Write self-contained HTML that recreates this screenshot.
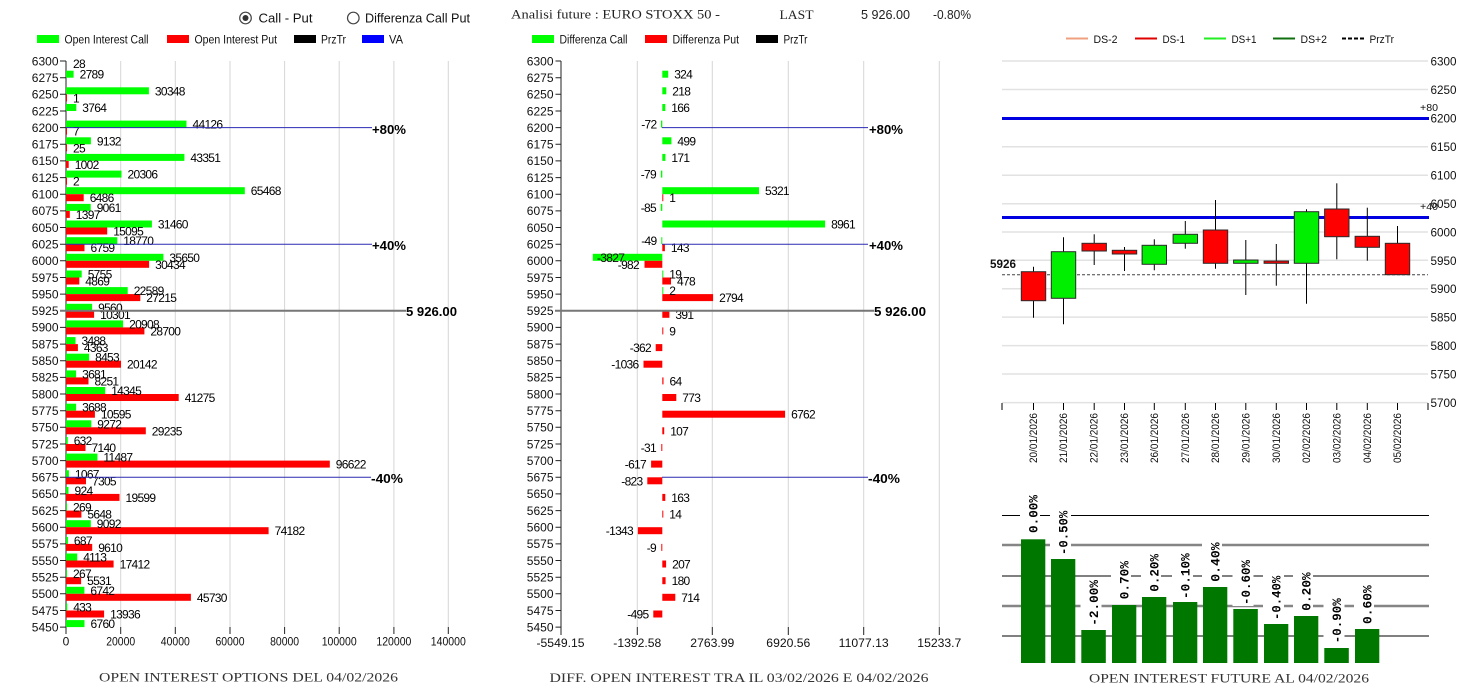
<!DOCTYPE html>
<html><head><meta charset="utf-8"><style>
html,body{margin:0;padding:0;background:#fff;}
svg{display:block;}
.s{font-family:"Liberation Sans",Arial,sans-serif;}
.sf{font-family:"Liberation Serif","Times New Roman",serif;}
.mo{font-family:"Liberation Mono","Courier New",monospace;}
.d{font-size:12px;letter-spacing:-0.7px;fill:#000;}
.y{font-size:12px;fill:#111;}
.b{font-size:13px;font-weight:bold;fill:#000;}
</style></head><body>
<svg width="1461" height="688" viewBox="0 0 1461 688" xmlns="http://www.w3.org/2000/svg">
<rect width="1461" height="688" fill="#fff"/>

<!-- Header -->
<circle cx="245.5" cy="18" r="5.8" fill="#fff" stroke="#444" stroke-width="1.2"/>
<circle cx="245.5" cy="18" r="3" fill="#333"/>
<text class="s" x="258.5" y="22.5" font-size="13" textLength="54" lengthAdjust="spacingAndGlyphs" fill="#111">Call - Put</text>
<circle cx="353.3" cy="18" r="5.8" fill="#fff" stroke="#444" stroke-width="1.2"/>
<text class="s" x="365" y="22.5" font-size="13" textLength="105" lengthAdjust="spacingAndGlyphs" fill="#111">Differenza Call Put</text>

<text class="sf" x="511" y="18.5" font-size="13" textLength="209" lengthAdjust="spacingAndGlyphs" fill="#222">Analisi future : EURO STOXX 50 -</text>
<text class="sf" x="779.5" y="19" font-size="13" textLength="34" lengthAdjust="spacingAndGlyphs" fill="#222">LAST</text>
<text class="s" x="861" y="19" font-size="12.5" textLength="49" lengthAdjust="spacingAndGlyphs" fill="#222">5 926.00</text>
<text class="s" x="933" y="19" font-size="12.5" textLength="38" lengthAdjust="spacingAndGlyphs" fill="#222">-0.80%</text>

<!-- left legend -->
<rect x="37" y="35" width="22" height="8" fill="#00ff00"/>
<text class="s" x="64.5" y="43.5" font-size="11.5" textLength="84" lengthAdjust="spacingAndGlyphs" fill="#111">Open Interest Call</text>
<rect x="167" y="35" width="22" height="8" fill="#ff0000"/>
<text class="s" x="194.5" y="43.5" font-size="11.5" textLength="82.5" lengthAdjust="spacingAndGlyphs" fill="#111">Open Interest Put</text>
<rect x="294" y="35" width="22" height="8" fill="#000"/>
<text class="s" x="321" y="43.5" font-size="11.5" textLength="25" lengthAdjust="spacingAndGlyphs" fill="#111">PrzTr</text>
<rect x="362" y="35" width="22" height="8" fill="#0000ff"/>
<text class="s" x="389" y="43.5" font-size="11.5" textLength="14" lengthAdjust="spacingAndGlyphs" fill="#111">VA</text>

<!-- middle legend -->
<rect x="532" y="35" width="22" height="8" fill="#00ff00"/>
<text class="s" x="559.5" y="43.5" font-size="11.5" textLength="68" lengthAdjust="spacingAndGlyphs" fill="#111">Differenza Call</text>
<rect x="645" y="35" width="22" height="8" fill="#ff0000"/>
<text class="s" x="672.5" y="43.5" font-size="11.5" textLength="66.5" lengthAdjust="spacingAndGlyphs" fill="#111">Differenza Put</text>
<rect x="756" y="35" width="22" height="8" fill="#000"/>
<text class="s" x="783.5" y="43.5" font-size="11.5" textLength="24" lengthAdjust="spacingAndGlyphs" fill="#111">PrzTr</text>

<!-- right legend -->
<line x1="1066" y1="38.5" x2="1088" y2="38.5" stroke="#f0a080" stroke-width="2"/>
<text class="s" x="1093.5" y="43" font-size="11" textLength="24" lengthAdjust="spacingAndGlyphs" fill="#111">DS-2</text>
<line x1="1135" y1="38.5" x2="1157" y2="38.5" stroke="#e00000" stroke-width="2"/>
<text class="s" x="1162.5" y="43" font-size="11" textLength="22.5" lengthAdjust="spacingAndGlyphs" fill="#111">DS-1</text>
<line x1="1204" y1="38.5" x2="1226" y2="38.5" stroke="#22ee22" stroke-width="2"/>
<text class="s" x="1231.5" y="43" font-size="11" textLength="25" lengthAdjust="spacingAndGlyphs" fill="#111">DS+1</text>
<line x1="1273" y1="38.5" x2="1295" y2="38.5" stroke="#107010" stroke-width="2"/>
<text class="s" x="1300.5" y="43" font-size="11" textLength="26.5" lengthAdjust="spacingAndGlyphs" fill="#111">DS+2</text>
<line x1="1342" y1="38.5" x2="1364" y2="38.5" stroke="#000" stroke-width="2" stroke-dasharray="4,2"/>
<text class="s" x="1369.5" y="43" font-size="11" textLength="24.5" lengthAdjust="spacingAndGlyphs" fill="#111">PrzTr</text>

<!-- ================= LEFT CHART ================= -->
<g stroke="#d6d6d6" stroke-width="1">
<line x1="120.7" y1="61" x2="120.7" y2="627"/>
<line x1="175.3" y1="61" x2="175.3" y2="627"/>
<line x1="230" y1="61" x2="230" y2="627"/>
<line x1="284.6" y1="61" x2="284.6" y2="627"/>
<line x1="339.2" y1="61" x2="339.2" y2="627"/>
<line x1="393.9" y1="61" x2="393.9" y2="627"/>
<line x1="448.3" y1="61" x2="448.3" y2="627"/>
</g>
<g stroke="#222" stroke-width="1">
<line x1="66" y1="61" x2="66" y2="634"/>
<line x1="120.7" y1="627" x2="120.7" y2="634"/>
<line x1="175.3" y1="627" x2="175.3" y2="634"/>
<line x1="230" y1="627" x2="230" y2="634"/>
<line x1="284.6" y1="627" x2="284.6" y2="634"/>
<line x1="339.2" y1="627" x2="339.2" y2="634"/>
<line x1="393.9" y1="627" x2="393.9" y2="634"/>
<line x1="448.3" y1="627" x2="448.3" y2="634"/>
</g>
<g class="s y" text-anchor="middle">
<text x="66" y="645.5">0</text>
<text x="120.7" y="645.5" textLength="29" lengthAdjust="spacingAndGlyphs">20000</text>
<text x="175.3" y="645.5" textLength="29" lengthAdjust="spacingAndGlyphs">40000</text>
<text x="230" y="645.5" textLength="29" lengthAdjust="spacingAndGlyphs">60000</text>
<text x="284.6" y="645.5" textLength="29" lengthAdjust="spacingAndGlyphs">80000</text>
<text x="339.2" y="645.5" textLength="35" lengthAdjust="spacingAndGlyphs">100000</text>
<text x="393.9" y="645.5" textLength="35" lengthAdjust="spacingAndGlyphs">120000</text>
<text x="448.3" y="645.5" textLength="35" lengthAdjust="spacingAndGlyphs">140000</text>
</g>

<!-- y ticks and labels, left + middle -->
<g stroke="#222" stroke-width="1">
<path d="M60 61H66M60 77.7H66M60 94.3H66M60 111H66M60 127.6H66M60 144.3H66M60 160.9H66M60 177.6H66M60 194.2H66M60 210.9H66M60 227.5H66M60 244.2H66M60 260.8H66M60 277.5H66M60 294.1H66M60 310.8H66M60 327.4H66M60 344.1H66M60 360.7H66M60 377.4H66M60 394H66M60 410.7H66M60 427.3H66M60 444H66M60 460.6H66M60 477.3H66M60 493.9H66M60 510.6H66M60 527.2H66M60 543.9H66M60 560.5H66M60 577.2H66M60 593.8H66M60 610.5H66M60 627.1H66"/>
<path d="M555.5 61H561M555.5 77.7H561M555.5 94.3H561M555.5 111H561M555.5 127.6H561M555.5 144.3H561M555.5 160.9H561M555.5 177.6H561M555.5 194.2H561M555.5 210.9H561M555.5 227.5H561M555.5 244.2H561M555.5 260.8H561M555.5 277.5H561M555.5 294.1H561M555.5 310.8H561M555.5 327.4H561M555.5 344.1H561M555.5 360.7H561M555.5 377.4H561M555.5 394H561M555.5 410.7H561M555.5 427.3H561M555.5 444H561M555.5 460.6H561M555.5 477.3H561M555.5 493.9H561M555.5 510.6H561M555.5 527.2H561M555.5 543.9H561M555.5 560.5H561M555.5 577.2H561M555.5 593.8H561M555.5 610.5H561M555.5 627.1H561"/>
</g>
<g class="s y" text-anchor="end">
<text x="58.5" y="65.3">6300</text><text x="58.5" y="82">6275</text><text x="58.5" y="98.6">6250</text><text x="58.5" y="115.3">6225</text><text x="58.5" y="131.9">6200</text><text x="58.5" y="148.6">6175</text><text x="58.5" y="165.2">6150</text><text x="58.5" y="181.9">6125</text><text x="58.5" y="198.5">6100</text><text x="58.5" y="215.2">6075</text><text x="58.5" y="231.8">6050</text><text x="58.5" y="248.5">6025</text><text x="58.5" y="265.1">6000</text><text x="58.5" y="281.8">5975</text><text x="58.5" y="298.4">5950</text><text x="58.5" y="315.1">5925</text><text x="58.5" y="331.7">5900</text><text x="58.5" y="348.4">5875</text><text x="58.5" y="365">5850</text><text x="58.5" y="381.7">5825</text><text x="58.5" y="398.3">5800</text><text x="58.5" y="415">5775</text><text x="58.5" y="431.6">5750</text><text x="58.5" y="448.3">5725</text><text x="58.5" y="464.9">5700</text><text x="58.5" y="481.6">5675</text><text x="58.5" y="498.2">5650</text><text x="58.5" y="514.9">5625</text><text x="58.5" y="531.5">5600</text><text x="58.5" y="548.2">5575</text><text x="58.5" y="564.8">5550</text><text x="58.5" y="581.5">5525</text><text x="58.5" y="598.1">5500</text><text x="58.5" y="614.8">5475</text><text x="58.5" y="631.4">5450</text>
</g>
<g class="s y" text-anchor="end">
<text x="553.5" y="65.3">6300</text><text x="553.5" y="82">6275</text><text x="553.5" y="98.6">6250</text><text x="553.5" y="115.3">6225</text><text x="553.5" y="131.9">6200</text><text x="553.5" y="148.6">6175</text><text x="553.5" y="165.2">6150</text><text x="553.5" y="181.9">6125</text><text x="553.5" y="198.5">6100</text><text x="553.5" y="215.2">6075</text><text x="553.5" y="231.8">6050</text><text x="553.5" y="248.5">6025</text><text x="553.5" y="265.1">6000</text><text x="553.5" y="281.8">5975</text><text x="553.5" y="298.4">5950</text><text x="553.5" y="315.1">5925</text><text x="553.5" y="331.7">5900</text><text x="553.5" y="348.4">5875</text><text x="553.5" y="365">5850</text><text x="553.5" y="381.7">5825</text><text x="553.5" y="398.3">5800</text><text x="553.5" y="415">5775</text><text x="553.5" y="431.6">5750</text><text x="553.5" y="448.3">5725</text><text x="553.5" y="464.9">5700</text><text x="553.5" y="481.6">5675</text><text x="553.5" y="498.2">5650</text><text x="553.5" y="514.9">5625</text><text x="553.5" y="531.5">5600</text><text x="553.5" y="548.2">5575</text><text x="553.5" y="564.8">5550</text><text x="553.5" y="581.5">5525</text><text x="553.5" y="598.1">5500</text><text x="553.5" y="614.8">5475</text><text x="553.5" y="631.4">5450</text>
</g>

<!-- left bars -->
<g fill="#00ff00">
<rect x="66" y="70.7" width="7.6" height="7"/>
<rect x="66" y="87.3" width="82.9" height="7"/>
<rect x="66" y="104" width="10.3" height="7"/>
<rect x="66" y="120.6" width="120.5" height="7"/>
<rect x="66" y="137.3" width="24.9" height="7"/>
<rect x="66" y="153.9" width="118.4" height="7"/>
<rect x="66" y="170.6" width="55.5" height="7"/>
<rect x="66" y="187.2" width="178.8" height="7"/>
<rect x="66" y="203.9" width="24.7" height="7"/>
<rect x="66" y="220.5" width="85.9" height="7"/>
<rect x="66" y="237.2" width="51.3" height="7"/>
<rect x="66" y="253.8" width="97.4" height="7"/>
<rect x="66" y="270.5" width="15.7" height="7"/>
<rect x="66" y="287.1" width="61.7" height="7"/>
<rect x="66" y="303.8" width="26.1" height="7"/>
<rect x="66" y="320.4" width="57.1" height="7"/>
<rect x="66" y="337.1" width="9.5" height="7"/>
<rect x="66" y="353.7" width="23.1" height="7"/>
<rect x="66" y="370.4" width="10.1" height="7"/>
<rect x="66" y="387" width="39.2" height="7"/>
<rect x="66" y="403.7" width="10.1" height="7"/>
<rect x="66" y="420.3" width="25.3" height="7"/>
<rect x="66" y="437" width="1.7" height="7"/>
<rect x="66" y="453.6" width="31.4" height="7"/>
<rect x="66" y="470.3" width="2.9" height="7"/>
<rect x="66" y="486.9" width="2.5" height="7"/>
<rect x="66" y="503.6" width="1" height="7"/>
<rect x="66" y="520.2" width="24.8" height="7"/>
<rect x="66" y="536.9" width="1.9" height="7"/>
<rect x="66" y="553.5" width="11.2" height="7"/>
<rect x="66" y="570.2" width="1" height="7"/>
<rect x="66" y="586.8" width="18.4" height="7"/>
<rect x="66" y="603.5" width="1.2" height="7"/>
<rect x="66" y="620.1" width="18.5" height="7"/>
</g>
<g fill="#ff0000">
<rect x="66" y="94.3" width="1" height="7"/>
<rect x="66" y="127.6" width="1" height="7"/>
<rect x="66" y="144.3" width="1" height="7"/>
<rect x="66" y="160.9" width="2.7" height="7"/>
<rect x="66" y="177.6" width="1" height="7"/>
<rect x="66" y="194.2" width="17.7" height="7"/>
<rect x="66" y="210.9" width="3.8" height="7"/>
<rect x="66" y="227.5" width="41.2" height="7"/>
<rect x="66" y="244.2" width="18.5" height="7"/>
<rect x="66" y="260.8" width="83.1" height="7"/>
<rect x="66" y="277.5" width="13.3" height="7"/>
<rect x="66" y="294.1" width="74.3" height="7"/>
<rect x="66" y="310.8" width="28.1" height="7"/>
<rect x="66" y="327.4" width="78.4" height="7"/>
<rect x="66" y="344.1" width="11.9" height="7"/>
<rect x="66" y="360.7" width="55" height="7"/>
<rect x="66" y="377.4" width="22.5" height="7"/>
<rect x="66" y="394" width="112.7" height="7"/>
<rect x="66" y="410.7" width="28.9" height="7"/>
<rect x="66" y="427.3" width="79.8" height="7"/>
<rect x="66" y="444" width="19.5" height="7"/>
<rect x="66" y="460.6" width="263.8" height="7"/>
<rect x="66" y="477.3" width="20" height="7"/>
<rect x="66" y="493.9" width="53.5" height="7"/>
<rect x="66" y="510.6" width="15.4" height="7"/>
<rect x="66" y="527.2" width="202.6" height="7"/>
<rect x="66" y="543.9" width="26.2" height="7"/>
<rect x="66" y="560.5" width="47.6" height="7"/>
<rect x="66" y="577.2" width="15.1" height="7"/>
<rect x="66" y="593.8" width="124.9" height="7"/>
<rect x="66" y="610.5" width="38.1" height="7"/>
</g>
<g class="s d">
<text x="73" y="68">28</text>
<text x="79.6" y="78.7">2789</text>
<text x="154.9" y="95.3">30348</text><text x="73" y="102.3">1</text>
<text x="82.3" y="112">3764</text>
<text x="192.5" y="128.6">44126</text><text x="73" y="135.6">7</text>
<text x="96.9" y="145.3">9132</text><text x="73" y="152.3">25</text>
<text x="190.4" y="161.9">43351</text><text x="74.7" y="168.9">1002</text>
<text x="127.5" y="178.6">20306</text><text x="73" y="185.6">2</text>
<text x="250.8" y="195.2">65468</text><text x="89.7" y="202.2">6486</text>
<text x="96.7" y="211.9">9061</text><text x="75.8" y="218.9">1397</text>
<text x="157.9" y="228.5">31460</text><text x="113.2" y="235.5">15095</text>
<text x="123.3" y="245.2">18770</text><text x="90.5" y="252.2">6759</text>
<text x="169.4" y="261.8">35650</text><text x="155.1" y="268.8">30434</text>
<text x="87.7" y="278.5">5755</text><text x="85.3" y="285.5">4869</text>
<text x="133.7" y="295.1">22589</text><text x="146.3" y="302.1">27215</text>
<text x="98.1" y="311.8">9560</text><text x="100.1" y="318.8">10301</text>
<text x="129.1" y="328.4">20908</text><text x="150.4" y="335.4">28700</text>
<text x="81.5" y="345.1">3488</text><text x="83.9" y="352.1">4363</text>
<text x="95.1" y="361.7">8453</text><text x="127" y="368.7">20142</text>
<text x="82.1" y="378.4">3681</text><text x="94.5" y="385.4">8251</text>
<text x="111.2" y="395">14345</text><text x="184.7" y="402">41275</text>
<text x="82.1" y="411.7">3688</text><text x="100.9" y="418.7">10595</text>
<text x="97.3" y="428.3">9272</text><text x="151.8" y="435.3">29235</text>
<text x="73.7" y="445">632</text><text x="91.5" y="452">7140</text>
<text x="103.4" y="461.6">11487</text><text x="335.8" y="468.6">96622</text>
<text x="74.9" y="478.3">1067</text><text x="92" y="485.3">7305</text>
<text x="74.5" y="494.9">924</text><text x="125.5" y="501.9">19599</text>
<text x="73" y="511.6">269</text><text x="87.4" y="518.6">5648</text>
<text x="96.8" y="528.2">9092</text><text x="274.6" y="535.2">74182</text>
<text x="73.9" y="544.9">687</text><text x="98.2" y="551.9">9610</text>
<text x="83.2" y="561.5">4113</text><text x="119.6" y="568.5">17412</text>
<text x="73" y="578.2">267</text><text x="87.1" y="585.2">5531</text>
<text x="90.4" y="594.8">6742</text><text x="196.9" y="601.8">45730</text>
<text x="73.2" y="611.5">433</text><text x="110.1" y="618.5">13936</text>
<text x="90.5" y="628.1">6760</text>
</g>
<!-- left overlay lines -->
<g stroke="#2a2ab4" stroke-width="1">
<line x1="66" y1="127.6" x2="372" y2="127.6"/>
<line x1="66" y1="244.2" x2="372" y2="244.2"/>
<line x1="66" y1="477.3" x2="371" y2="477.3"/>
</g>
<line x1="60" y1="310.8" x2="406" y2="310.8" stroke="#777" stroke-width="2"/>
<g class="s b">
<text x="372" y="134" textLength="34" lengthAdjust="spacingAndGlyphs">+80%</text>
<text x="372" y="249.8" textLength="34" lengthAdjust="spacingAndGlyphs">+40%</text>
<text x="406" y="315.8" textLength="51" lengthAdjust="spacingAndGlyphs">5 926.00</text>
<text x="371" y="483" textLength="32" lengthAdjust="spacingAndGlyphs">-40%</text>
</g>
<text class="sf" x="99" y="681.5" font-size="13" textLength="299" lengthAdjust="spacingAndGlyphs" fill="#333">OPEN INTEREST OPTIONS DEL 04/02/2026</text>

<!-- ================= MIDDLE CHART ================= -->
<g stroke="#d6d6d6" stroke-width="1">
<line x1="637.3" y1="61" x2="637.3" y2="627"/>
<line x1="712.3" y1="61" x2="712.3" y2="627"/>
<line x1="788.3" y1="61" x2="788.3" y2="627"/>
<line x1="863.7" y1="61" x2="863.7" y2="627"/>
<line x1="939.3" y1="61" x2="939.3" y2="627"/>
</g>
<g stroke="#222" stroke-width="1">
<line x1="561" y1="61" x2="561" y2="635"/>
<line x1="637.3" y1="627" x2="637.3" y2="635"/>
<line x1="712.3" y1="627" x2="712.3" y2="635"/>
<line x1="788.3" y1="627" x2="788.3" y2="635"/>
<line x1="863.7" y1="627" x2="863.7" y2="635"/>
<line x1="939.3" y1="627" x2="939.3" y2="635"/>
</g>
<g class="s y" text-anchor="middle">
<text x="560.5" y="647" textLength="48" lengthAdjust="spacingAndGlyphs">-5549.15</text>
<text x="637.3" y="647" textLength="48" lengthAdjust="spacingAndGlyphs">-1392.58</text>
<text x="712.3" y="647" textLength="44" lengthAdjust="spacingAndGlyphs">2763.99</text>
<text x="788.3" y="647" textLength="44" lengthAdjust="spacingAndGlyphs">6920.56</text>
<text x="863.7" y="647" textLength="50" lengthAdjust="spacingAndGlyphs">11077.13</text>
<text x="939.3" y="647" textLength="44" lengthAdjust="spacingAndGlyphs">15233.7</text>
</g>
<g fill="#00ff00">
<rect x="662.3" y="70.7" width="5.9" height="7"/>
<rect x="662.3" y="87.3" width="4" height="7"/>
<rect x="662.3" y="104" width="3" height="7"/>
<rect x="661" y="120.6" width="1.3" height="7"/>
<rect x="662.3" y="137.3" width="9.1" height="7"/>
<rect x="662.3" y="153.9" width="3.1" height="7"/>
<rect x="660.9" y="170.6" width="1.4" height="7"/>
<rect x="662.3" y="187.2" width="96.7" height="7"/>
<rect x="660.8" y="203.9" width="1.5" height="7"/>
<rect x="662.3" y="220.5" width="162.8" height="7"/>
<rect x="661.3" y="237.2" width="1" height="7"/>
<rect x="592.8" y="253.8" width="69.5" height="7"/>
<rect x="662.3" y="270.5" width="1" height="7"/>
<rect x="662.3" y="287.1" width="1" height="7"/>
</g>
<g fill="#ff0000">
<rect x="662.3" y="194.2" width="1" height="7"/>
<rect x="662.3" y="244.2" width="2.6" height="7"/>
<rect x="644.5" y="260.8" width="17.8" height="7"/>
<rect x="662.3" y="277.5" width="8.7" height="7"/>
<rect x="662.3" y="294.1" width="50.8" height="7"/>
<rect x="662.3" y="310.8" width="7.1" height="7"/>
<rect x="662.3" y="327.4" width="1" height="7"/>
<rect x="655.7" y="344.1" width="6.6" height="7"/>
<rect x="643.5" y="360.7" width="18.8" height="7"/>
<rect x="662.3" y="377.4" width="1.2" height="7"/>
<rect x="662.3" y="394" width="14" height="7"/>
<rect x="662.3" y="410.7" width="122.8" height="7"/>
<rect x="662.3" y="427.3" width="1.9" height="7"/>
<rect x="661.3" y="444" width="1" height="7"/>
<rect x="651.1" y="460.6" width="11.2" height="7"/>
<rect x="647.3" y="477.3" width="15" height="7"/>
<rect x="662.3" y="493.9" width="3" height="7"/>
<rect x="662.3" y="510.6" width="1" height="7"/>
<rect x="637.9" y="527.2" width="24.4" height="7"/>
<rect x="661.3" y="543.9" width="1" height="7"/>
<rect x="662.3" y="560.5" width="3.8" height="7"/>
<rect x="662.3" y="577.2" width="3.3" height="7"/>
<rect x="662.3" y="593.8" width="13" height="7"/>
<rect x="653.3" y="610.5" width="9" height="7"/>
</g>
<g class="s d">
<text x="674.2" y="78.7">324</text>
<text x="672.3" y="95.3">218</text>
<text x="671.3" y="112">166</text>
<text x="677.4" y="145.3">499</text>
<text x="671.4" y="161.9">171</text>
<text x="765" y="195.2">5321</text><text x="669.3" y="202.2">1</text>
<text x="831.1" y="228.5">8961</text>
<text x="670.9" y="252.2">143</text>
<text x="597" y="261.8">-3827</text>
<text x="669.3" y="278.5">19</text><text x="677" y="285.5">478</text>
<text x="669.3" y="295.1">2</text><text x="719.1" y="302.1">2794</text>
<text x="675.4" y="318.8">391</text>
<text x="669.3" y="335.4">9</text>
<text x="669.5" y="385.4">64</text>
<text x="682.3" y="402">773</text>
<text x="791.1" y="418.7">6762</text>
<text x="670.2" y="435.3">107</text>
<text x="671.3" y="501.9">163</text>
<text x="669.3" y="518.6">14</text>
<text x="672.1" y="568.5">207</text>
<text x="671.6" y="585.2">180</text>
<text x="681.3" y="601.8">714</text>
</g>
<g class="s d" text-anchor="end">
<text x="656.5" y="128.6">-72</text>
<text x="656" y="178.6">-79</text>
<text x="656" y="211.9">-85</text>
<text x="656.5" y="245.2">-49</text>
<text x="639" y="268.8">-982</text>
<text x="651" y="352.1">-362</text>
<text x="638.5" y="368.7">-1036</text>
<text x="656" y="452">-31</text>
<text x="646" y="468.6">-617</text>
<text x="642.5" y="485.3">-823</text>
<text x="633" y="535.2">-1343</text>
<text x="656" y="551.9">-9</text>
<text x="648.5" y="618.5">-495</text>
</g>
<g stroke="#2a2ab4" stroke-width="1">
<line x1="662" y1="127.6" x2="868" y2="127.6"/>
<line x1="662" y1="244.2" x2="868" y2="244.2"/>
<line x1="662" y1="477.3" x2="868" y2="477.3"/>
</g>
<line x1="555" y1="310.8" x2="874" y2="310.8" stroke="#777" stroke-width="2"/>
<g class="s b">
<text x="869" y="134" textLength="34" lengthAdjust="spacingAndGlyphs">+80%</text>
<text x="869" y="249.8" textLength="34" lengthAdjust="spacingAndGlyphs">+40%</text>
<text x="874" y="315.8" textLength="52" lengthAdjust="spacingAndGlyphs">5 926.00</text>
<text x="868" y="483" textLength="32" lengthAdjust="spacingAndGlyphs">-40%</text>
</g>
<text class="sf" x="549.5" y="682" font-size="13" textLength="379" lengthAdjust="spacingAndGlyphs" fill="#333">DIFF. OPEN INTEREST TRA IL 03/02/2026 E 04/02/2026</text>

<!-- ================= CANDLE CHART ================= -->
<g stroke="#e2e2e2" stroke-width="1.5">
<line x1="1002" y1="61" x2="1428" y2="61"/>
<line x1="1002" y1="89.5" x2="1428" y2="89.5"/>
<line x1="1002" y1="146.7" x2="1428" y2="146.7"/>
<line x1="1002" y1="175.3" x2="1428" y2="175.3"/>
<line x1="1002" y1="203.8" x2="1428" y2="203.8"/>
<line x1="1002" y1="232" x2="1428" y2="232"/>
<line x1="1002" y1="260.3" x2="1428" y2="260.3"/>
<line x1="1002" y1="288.7" x2="1428" y2="288.7"/>
<line x1="1002" y1="317.1" x2="1428" y2="317.1"/>
<line x1="1002" y1="345.6" x2="1428" y2="345.6"/>
<line x1="1002" y1="374" x2="1428" y2="374"/>
<line x1="1002" y1="402.6" x2="1428" y2="402.6"/>
</g>
<g stroke="#0000e0" stroke-width="3">
<line x1="1002" y1="118.5" x2="1429" y2="118.5"/>
<line x1="1002" y1="217.5" x2="1429" y2="217.5"/>
</g>
<g class="s" font-size="12" fill="#111">
<text x="1430.5" y="65.5" textLength="26" lengthAdjust="spacingAndGlyphs">6300</text>
<text x="1430.5" y="94" textLength="26" lengthAdjust="spacingAndGlyphs">6250</text>
<text x="1430.5" y="122.7" textLength="26" lengthAdjust="spacingAndGlyphs">6200</text>
<text x="1430.5" y="151.2" textLength="26" lengthAdjust="spacingAndGlyphs">6150</text>
<text x="1430.5" y="179.7" textLength="26" lengthAdjust="spacingAndGlyphs">6100</text>
<text x="1430.5" y="208.2" textLength="26" lengthAdjust="spacingAndGlyphs">6050</text>
<text x="1430.5" y="236.5" textLength="26" lengthAdjust="spacingAndGlyphs">6000</text>
<text x="1430.5" y="264.8" textLength="26" lengthAdjust="spacingAndGlyphs">5950</text>
<text x="1430.5" y="293.2" textLength="26" lengthAdjust="spacingAndGlyphs">5900</text>
<text x="1430.5" y="321.6" textLength="26" lengthAdjust="spacingAndGlyphs">5850</text>
<text x="1430.5" y="350.1" textLength="26" lengthAdjust="spacingAndGlyphs">5800</text>
<text x="1430.5" y="378.5" textLength="26" lengthAdjust="spacingAndGlyphs">5750</text>
<text x="1430.5" y="407" textLength="26" lengthAdjust="spacingAndGlyphs">5700</text>
</g>
<g class="s" font-size="10" fill="#111">
<text x="1420" y="111" textLength="18" lengthAdjust="spacingAndGlyphs">+80</text>
<text x="1420" y="210" textLength="18" lengthAdjust="spacingAndGlyphs">+40</text>
</g>
<line x1="1002" y1="274.7" x2="1428" y2="274.7" stroke="#444" stroke-width="1" stroke-dasharray="3,2"/>
<text class="s" x="990" y="268" font-size="12" font-weight="bold" textLength="26" lengthAdjust="spacingAndGlyphs" fill="#111">5926</text>

<!-- wicks -->
<g stroke="#000" stroke-width="1">
<line x1="1033.5" y1="266.7" x2="1033.5" y2="317.7"/>
<line x1="1063.5" y1="237.3" x2="1063.5" y2="324.3"/>
<line x1="1094.2" y1="234.3" x2="1094.2" y2="265"/>
<line x1="1124.5" y1="247" x2="1124.5" y2="271"/>
<line x1="1154.3" y1="239.3" x2="1154.3" y2="270.3"/>
<line x1="1185.3" y1="221" x2="1185.3" y2="248.7"/>
<line x1="1215.5" y1="200" x2="1215.5" y2="268.7"/>
<line x1="1245.8" y1="240" x2="1245.8" y2="295"/>
<line x1="1276.3" y1="244" x2="1276.3" y2="285.7"/>
<line x1="1306.5" y1="209.3" x2="1306.5" y2="303.7"/>
<line x1="1336.8" y1="183.3" x2="1336.8" y2="259.3"/>
<line x1="1367.3" y1="207.7" x2="1367.3" y2="260.7"/>
<line x1="1397.5" y1="226" x2="1397.5" y2="274.7"/>
</g>
<g stroke="#2a2a2a" stroke-width="1">
<rect x="1021.3" y="271.7" width="24.4" height="29" fill="#ff0000"/>
<rect x="1051.3" y="251.7" width="24.4" height="46.6" fill="#00ee00"/>
<rect x="1082" y="243.3" width="24.4" height="7.7" fill="#ff0000"/>
<rect x="1112.3" y="250.3" width="24.4" height="3.7" fill="#ff0000"/>
<rect x="1142.1" y="245.3" width="24.4" height="19" fill="#00ee00"/>
<rect x="1173.1" y="234.3" width="24.4" height="9" fill="#00ee00"/>
<rect x="1203.3" y="230" width="24.4" height="33.3" fill="#ff0000"/>
<rect x="1233.6" y="260" width="24.4" height="3.3" fill="#00ee00"/>
<rect x="1264.1" y="261" width="24.4" height="2.3" fill="#ff0000"/>
<rect x="1294.3" y="211.7" width="24.4" height="51.6" fill="#00ee00"/>
<rect x="1324.6" y="209" width="24.4" height="27.7" fill="#ff0000"/>
<rect x="1355.1" y="236.3" width="24.4" height="11" fill="#ff0000"/>
<rect x="1385.3" y="243.3" width="24.4" height="31.4" fill="#ff0000"/>
</g>
<g stroke="#000" stroke-width="1">
<path d="M1002 403V410M1428 403V410M1033.5 403V410M1063.5 403V410M1094.2 403V410M1124.5 403V410M1154.3 403V410M1185.3 403V410M1215.5 403V410M1245.8 403V410M1276.3 403V410M1306.5 403V410M1336.8 403V410M1367.3 403V410M1397.5 403V410"/>
</g>
<g class="s" font-size="11" fill="#111">
<text transform="translate(1037,463) rotate(-90)" textLength="50" lengthAdjust="spacingAndGlyphs">20/01/2026</text>
<text transform="translate(1067,463) rotate(-90)" textLength="50" lengthAdjust="spacingAndGlyphs">21/01/2026</text>
<text transform="translate(1097.7,463) rotate(-90)" textLength="50" lengthAdjust="spacingAndGlyphs">22/01/2026</text>
<text transform="translate(1128,463) rotate(-90)" textLength="50" lengthAdjust="spacingAndGlyphs">23/01/2026</text>
<text transform="translate(1157.8,463) rotate(-90)" textLength="50" lengthAdjust="spacingAndGlyphs">26/01/2026</text>
<text transform="translate(1188.8,463) rotate(-90)" textLength="50" lengthAdjust="spacingAndGlyphs">27/01/2026</text>
<text transform="translate(1219,463) rotate(-90)" textLength="50" lengthAdjust="spacingAndGlyphs">28/01/2026</text>
<text transform="translate(1249.3,463) rotate(-90)" textLength="50" lengthAdjust="spacingAndGlyphs">29/01/2026</text>
<text transform="translate(1279.8,463) rotate(-90)" textLength="50" lengthAdjust="spacingAndGlyphs">30/01/2026</text>
<text transform="translate(1310,463) rotate(-90)" textLength="50" lengthAdjust="spacingAndGlyphs">02/02/2026</text>
<text transform="translate(1340.3,463) rotate(-90)" textLength="50" lengthAdjust="spacingAndGlyphs">03/02/2026</text>
<text transform="translate(1370.8,463) rotate(-90)" textLength="50" lengthAdjust="spacingAndGlyphs">04/02/2026</text>
<text transform="translate(1401,463) rotate(-90)" textLength="50" lengthAdjust="spacingAndGlyphs">05/02/2026</text>
</g>

<!-- ================= FUTURE OI BARS ================= -->
<g stroke="#000" stroke-width="1">
<line x1="1002" y1="515.5" x2="1429" y2="515.5"/>
<line x1="1002" y1="576" x2="1429" y2="576"/>
<line x1="1002" y1="636" x2="1429" y2="636"/>
</g>
<g stroke="#858585" stroke-width="2.5">
<line x1="1002" y1="545" x2="1429" y2="545"/>
<line x1="1002" y1="606" x2="1429" y2="606"/>
</g>
<g fill="#007800">
<rect x="1021" y="539.3" width="24.3" height="123.7"/>
<rect x="1051" y="559" width="24.3" height="104"/>
<rect x="1081.3" y="630" width="24.5" height="33"/>
<rect x="1112" y="605" width="24.3" height="58"/>
<rect x="1142" y="597" width="24.3" height="66"/>
<rect x="1173" y="602" width="24.3" height="61"/>
<rect x="1203" y="587" width="24.3" height="76"/>
<rect x="1233.3" y="609" width="24.5" height="54"/>
<rect x="1264" y="624" width="24.3" height="39"/>
<rect x="1294" y="616" width="24.3" height="47"/>
<rect x="1324.3" y="648" width="24.5" height="15"/>
<rect x="1355" y="629" width="24.3" height="34"/>
</g>
<g fill="#fff">
<rect x="1020" y="494" width="20" height="40"/>
<rect x="1050" y="509.7" width="21" height="46.3"/>
<rect x="1080.5" y="579" width="21" height="47.7"/>
<rect x="1111" y="560" width="20" height="40.3"/>
<rect x="1141" y="553" width="20" height="39.7"/>
<rect x="1172" y="552.3" width="21" height="47.7"/>
<rect x="1202" y="541.3" width="20" height="41.4"/>
<rect x="1232.5" y="559" width="21" height="47"/>
<rect x="1263" y="574.7" width="21" height="46.3"/>
<rect x="1293" y="571.3" width="20" height="40.4"/>
<rect x="1323.5" y="597.3" width="21" height="47"/>
<rect x="1354" y="584.3" width="20" height="40.7"/>
</g>
<g class="mo" font-size="12.5" font-weight="bold" fill="#000">
<text transform="translate(1037.5,533) rotate(-90)" textLength="38" lengthAdjust="spacingAndGlyphs">0.00%</text>
<text transform="translate(1067.5,555) rotate(-90)" textLength="44.3" lengthAdjust="spacingAndGlyphs">-0.50%</text>
<text transform="translate(1098,625.7) rotate(-90)" textLength="45.7" lengthAdjust="spacingAndGlyphs">-2.00%</text>
<text transform="translate(1128.5,599.3) rotate(-90)" textLength="38.3" lengthAdjust="spacingAndGlyphs">0.70%</text>
<text transform="translate(1158.5,591.7) rotate(-90)" textLength="37.7" lengthAdjust="spacingAndGlyphs">0.20%</text>
<text transform="translate(1189.5,599) rotate(-90)" textLength="45.7" lengthAdjust="spacingAndGlyphs">-0.10%</text>
<text transform="translate(1219.5,581.7) rotate(-90)" textLength="39.4" lengthAdjust="spacingAndGlyphs">0.40%</text>
<text transform="translate(1250,605) rotate(-90)" textLength="45" lengthAdjust="spacingAndGlyphs">-0.60%</text>
<text transform="translate(1280.5,620) rotate(-90)" textLength="44.3" lengthAdjust="spacingAndGlyphs">-0.40%</text>
<text transform="translate(1310.5,610.7) rotate(-90)" textLength="38.4" lengthAdjust="spacingAndGlyphs">0.20%</text>
<text transform="translate(1341,643.3) rotate(-90)" textLength="45" lengthAdjust="spacingAndGlyphs">-0.90%</text>
<text transform="translate(1371.5,624) rotate(-90)" textLength="38.7" lengthAdjust="spacingAndGlyphs">0.60%</text>
</g>
<text class="sf" x="1089" y="682.5" font-size="13" textLength="280" lengthAdjust="spacingAndGlyphs" fill="#333">OPEN INTEREST FUTURE AL 04/02/2026</text>
</svg>
</body></html>
